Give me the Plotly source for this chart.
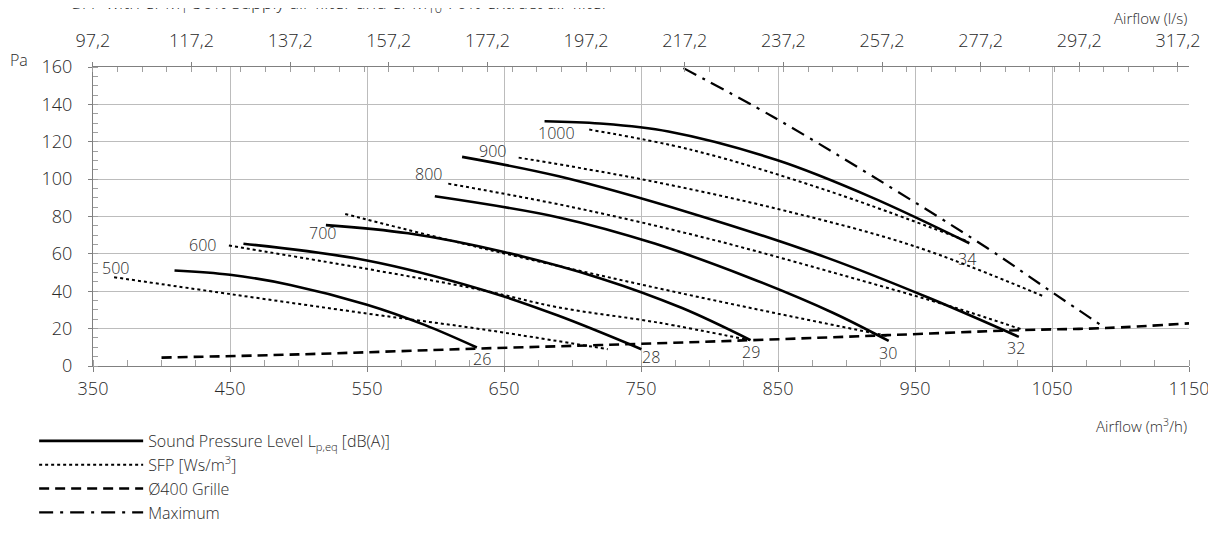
import plotly.graph_objects as go

# fan curves: sound pressure level (solid), labelled at the end
spl_labels = ["26", "28", "29", "30", "32", "34"]
spl_x = [
    [409.5, 450, 494, 550, 592, 630.2],
    [459.8, 550, 633.5, 689.4, 750.3],
    [520, 580, 650, 720, 780, 830],
    [599.5, 690, 760, 830, 890, 930.8],
    [619.4, 690, 787.8, 885.5, 960, 1025.8],
    [679.6, 720, 770, 849.7, 918, 989.7],
]
spl_y = [
    [51.1, 48.8, 43.4, 32.8, 22.0, 9.9],
    [65.4, 56.5, 41.0, 27.0, 9.0],
    [75.4, 71.0, 61.0, 47.0, 31.0, 13.8],
    [90.8, 79.5, 65.5, 47.0, 28.5, 13.4],
    [111.9, 101.5, 81.5, 58.0, 36.5, 15.6],
    [131.0, 129.8, 125.5, 110.1, 90.4, 65.7],
]

# SFP lines (dotted), labelled at the start
sfp_labels = ["500", "600", "700", "800", "900", "1000"]
sfp_x = [
    [365.4, 450, 549.7, 633.5, 725.7],
    [449.2, 549.7, 633.5, 689.4, 762, 829.4],
    [534.1, 640, 760, 850, 929.8],
    [609.3, 700, 800, 900, 980, 1027.3],
    [660.7, 750, 850, 950, 1044.5],
    [712.2, 787.8, 885.5, 989],
]
sfp_y = [
    [47.5, 38.5, 28.1, 19.7, 9.0],
    [64.5, 52.0, 40.7, 31.4, 23.3, 13.8],
    [81.3, 62.0, 42.0, 28.0, 16.1],
    [97.6, 85.0, 68.0, 48.0, 31.0, 19.7],
    [111.5, 100.0, 84.0, 64.0, 37.1],
    [126.5, 115.5, 94.0, 66.6],
]

grille_x = [400, 500, 630, 720, 830, 930, 1027, 1089, 1150]
grille_y = [4.5, 6.2, 9.3, 11.2, 13.8, 16.5, 19.2, 20.3, 22.8]

max_x = [781, 846, 918, 1003, 1050, 1089]
max_y = [159.4, 133.5, 102, 63, 39.5, 20.3]

x_ticks = list(range(350, 1151, 100))
ls_ticks = [97.2 + 20 * i for i in range(12)]

# label offsets in pixels (styling only)
spl_shift = [(5, -11), (10, -8), (0, -12), (-1, -12), (-3, -11), (-2, -16)]
sfp_shift = [(1, 9), (-26, 0), (-23, -19), (-20, 10), (-26, 7), (-33, -3)]

FONT = "Open Sans"
TXT = "#2a2a2a"
GRID = "#bcbcbc"
AXIS = "#808080"

fig = go.Figure()

for i, (xs, ys) in enumerate(zip(spl_x, spl_y)):
    fig.add_trace(go.Scatter(
        x=xs, y=ys, mode="lines", line=dict(color="black", width=2.6, shape="spline"),
        name="Sound Pressure Level L<sub>p,eq</sub> [dB(A)]", legendgroup="spl",
        showlegend=(i == 0),
    ))
    fig.add_annotation(x=xs[-1], y=ys[-1], text=spl_labels[i], showarrow=False,
                       xanchor="center", yanchor="middle",
                       xshift=spl_shift[i][0], yshift=spl_shift[i][1],
                       font=dict(size=16, color=TXT, weight=300))

for i, (xs, ys) in enumerate(zip(sfp_x, sfp_y)):
    fig.add_trace(go.Scatter(
        x=xs, y=ys, mode="lines", line=dict(color="black", width=2, dash="dot", shape="spline"),
        name="SFP [Ws/m<sup>3</sup>]", legendgroup="sfp", showlegend=(i == 0),
    ))
    fig.add_annotation(x=xs[0], y=ys[0], text=sfp_labels[i], showarrow=False,
                       xanchor="center", yanchor="middle",
                       xshift=sfp_shift[i][0], yshift=sfp_shift[i][1],
                       font=dict(size=16, color=TXT, weight=300))

fig.add_trace(go.Scatter(
    x=grille_x, y=grille_y, mode="lines",
    line=dict(color="black", width=2.6, dash="10px,6px", shape="spline"),
    name="Ø400 Grille",
))
fig.add_trace(go.Scatter(
    x=max_x, y=max_y, mode="lines",
    line=dict(color="black", width=2.2, dash="14px,7px,3px,7px", shape="spline"),
    name="Maximum",
))

# invisible trace to hold the top l/s axis
fig.add_trace(go.Scatter(x=[350 / 3.6, 1150 / 3.6], y=[0, 0], xaxis="x2",
                         mode="lines", line=dict(width=0), showlegend=False, hoverinfo="skip"))

tickfont = dict(size=18, color=TXT, weight=300)

# the page body adds an 8px margin, so the figure is 8px smaller each way
fig.update_layout(
    width=1208, height=539,
    margin=dict(l=85, r=27, t=59, b=181, autoexpand=False),
    paper_bgcolor="white", plot_bgcolor="white",
    font=dict(family=FONT, color=TXT, size=16, weight=300),
    showlegend=True,
    legend=dict(x=-0.0537, y=-0.194, xanchor="left", yanchor="top",
                font=dict(size=16, color=TXT, weight=300), itemwidth=104, tracegroupgap=0,
                bgcolor="rgba(0,0,0,0)"),
    xaxis=dict(range=[350, 1150], tickvals=x_ticks, showgrid=True, gridcolor=GRID,
               showline=True, linecolor=AXIS, ticks="outside", ticklen=5, tickcolor=AXIS,
               ticklabelstandoff=1, tickfont=tickfont, automargin=False,
               minor=dict(dtick=25, tick0=350, ticks="inside", ticklen=6, tickcolor="#a0a0a0",
                          showgrid=False),
               zeroline=False),
    xaxis2=dict(range=[350 / 3.6, 1150 / 3.6], overlaying="x", side="top",
                tickvals=ls_ticks, ticktext=[f"{v:.1f}".replace(".", ",") for v in ls_ticks],
                showgrid=False, showline=True, linecolor=AXIS, ticks="outside", ticklen=4,
                tickcolor=AXIS, ticklabelstandoff=8, tickfont=tickfont, automargin=False,
                minor=dict(dtick=5, tick0=97.2, ticks="inside", ticklen=5, tickcolor="#a0a0a0"),
                zeroline=False),
    yaxis=dict(range=[0, 160], dtick=20, showgrid=True, gridcolor=GRID,
               showline=True, linecolor=AXIS, ticks="outside", ticklen=4, tickcolor=AXIS,
               ticklabelstandoff=12, tickfont=tickfont, automargin=False,
               minor=dict(dtick=5, ticks="inside", ticklen=5, tickcolor="#a0a0a0", showgrid=False),
               zeroline=False),
)

fig.add_annotation(xref="paper", yref="paper", x=-0.078, y=1.023, text="Pa", showarrow=False,
                   xanchor="left", yanchor="middle", font=dict(size=16, color=TXT, weight=300))
fig.add_annotation(xref="paper", yref="paper", x=1.0, y=1.164, text="Airflow (l/s)",
                   showarrow=False, xanchor="right", yanchor="middle",
                   font=dict(size=15, color=TXT, weight=300))
fig.add_annotation(xref="paper", yref="paper", x=1.0, y=-0.2, text="Airflow (m<sup>3</sup>/h)",
                   showarrow=False, xanchor="right", yanchor="middle",
                   font=dict(size=15, color=TXT, weight=300))
fig.add_annotation(xref="paper", yref="paper", x=-0.0212, y=1.213,
                   text="SFP with ePM<sub>1</sub> 50% supply air filter and ePM<sub>10</sub> 70% extract air filter",
                   showarrow=False, xanchor="left", yanchor="middle",
                   font=dict(size=18, color=TXT, weight=300))

fig.write_html("out.html")
